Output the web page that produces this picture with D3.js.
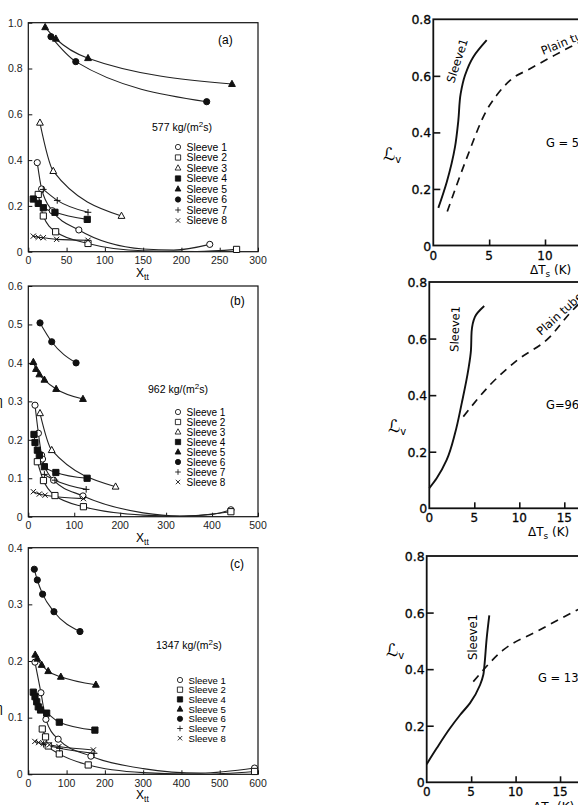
<!DOCTYPE html>
<html>
<head>
<meta charset="utf-8">
<script src="https://cdn.jsdelivr.net/npm/d3@7"></script>
<style>
body { margin: 0; background: #fff; }
svg { display: block; }
</style>
</head>
<body>
<div id="chart"></div>
<script>
// ---- left column: eta vs Xtt, one array per sleeve ----
var sleeveNames = ["Sleeve 1", "Sleeve 2", "Sleeve 3", "Sleeve 4", "Sleeve 5", "Sleeve 6", "Sleeve 7", "Sleeve 8"]
var markerKinds = ["circleOpen", "squareOpen", "triangleOpen", "square", "triangle", "circle", "plus", "cross"]

// (a) G = 577
var a1 = [[11.7, 0.389], [17.4, 0.274], [31.3, 0.179], [66, 0.095], [237, 0.032]]
var a1Fit = [[150, 0.012], [190, 0.007]]
var a2 = [[13, 0.25], [19.6, 0.156], [35.7, 0.087], [78, 0.036], [272, 0.01]]
var a2Fit = [[150, 0.004], [220, 0.001]]
var a3 = [[15.2, 0.563], [32.6, 0.352], [121.7, 0.156]]
var a4 = [[6.5, 0.23], [13, 0.211], [19.6, 0.192], [34.8, 0.172], [77, 0.141]]
var a5 = [[22, 0.98], [36, 0.93], [78, 0.845], [266, 0.732]]
var a6 = [[29.6, 0.939], [62, 0.83], [233, 0.655]]
var a7 = [[19.6, 0.272], [37.8, 0.224], [78, 0.172]]
var a8 = [[6.5, 0.068], [13, 0.063], [19.6, 0.061], [37, 0.054], [78, 0.05]]

// (b) G = 962
var b1 = [[14.6, 0.29], [22, 0.217], [29, 0.16], [31, 0.15], [55, 0.095], [119, 0.054], [441, 0.018]]
var b1Fit = [[250, 0.01], [330, 0.002], [400, 0.006]]
var b2 = [[19.7, 0.143], [33, 0.094], [58, 0.055], [120, 0.026], [441, 0.013]]
var b2Fit = [[250, 0.004], [330, 0.001]]
var b3 = [[25.5, 0.269], [51, 0.173], [190, 0.078]]
var b4 = [[12.4, 0.214], [14.6, 0.193], [19.7, 0.173], [24, 0.16], [35, 0.13], [60, 0.115], [128, 0.1]]
var b5 = [[11, 0.402], [16.8, 0.384], [24, 0.37], [35, 0.356], [60.6, 0.332], [119, 0.306]]
var b6 = [[25.5, 0.504], [51, 0.455], [104, 0.4]]
var b7 = [[35, 0.11], [58, 0.095], [126, 0.071]]
var b8 = [[11, 0.065], [24, 0.059], [36.5, 0.056], [120, 0.047]]

// (c) G = 1347 (no sleeve 3)
var c1 = [[17.4, 0.198], [33, 0.144], [46, 0.097], [78, 0.062], [163.5, 0.032], [591, 0.011]]
var c1Fit = [[300, 0.01], [450, 0.002]]
var c2 = [[36.5, 0.08], [45, 0.066], [52, 0.05], [81, 0.036], [156.5, 0.0165], [591, 0.005]]
var c2Fit = [[300, 0.003], [450, 0.0]]
var c4 = [[13, 0.145], [17.5, 0.137], [22, 0.128], [26, 0.119], [32, 0.1135], [48, 0.108], [81, 0.092], [174, 0.078]]
var c5 = [[18, 0.211], [23.5, 0.204], [35, 0.193], [52, 0.182], [85, 0.172], [176.5, 0.158]]
var c6 = [[15.7, 0.362], [23.5, 0.343], [37.4, 0.318], [67, 0.287], [135, 0.252]]
var c7 = [[40, 0.053], [82, 0.046], [172, 0.037]]
var c8 = [[17, 0.058], [27, 0.056], [40, 0.054], [55, 0.052], [80, 0.049], [170, 0.043]]

var aTicksX = [0, 50, 100, 150, 200, 250, 300], aTicksY = [0, 0.2, 0.4, 0.6, 0.8, 1.0]
var bTicksX = [0, 100, 200, 300, 400, 500], bTicksY = [0, 0.1, 0.2, 0.3, 0.4, 0.5, 0.6]
var cTicksX = [0, 100, 200, 300, 400, 500, 600], cTicksY = [0, 0.1, 0.2, 0.3, 0.4]

// ---- right column: L_v vs delta Ts ----
var r1Sleeve = [[0.45, 0.133], [1.2, 0.224], [1.94, 0.348], [2.24, 0.442], [2.45, 0.537], [2.84, 0.602], [3.58, 0.667], [4.78, 0.726]]
var r1Plain = [[1.25, 0.12], [3.0, 0.31], [4.77, 0.478], [5.67, 0.531], [6.87, 0.584], [8.66, 0.625], [10.45, 0.664], [12.24, 0.702], [14, 0.735]]
var r2Sleeve = [[0, 0.071], [0.82, 0.106], [1.93, 0.171], [2.86, 0.265], [3.6, 0.371], [4.33, 0.489], [4.63, 0.559], [4.7, 0.624], [5.07, 0.677], [6.1, 0.715]]
var r2Plain = [[3.78, 0.324], [6.74, 0.436], [9.71, 0.522], [13.4, 0.606], [15.6, 0.689], [17.5, 0.75]]
var r3Sleeve = [[0, 0.064], [1.12, 0.12], [2.62, 0.191], [3.75, 0.238], [4.87, 0.28], [6.0, 0.344], [6.37, 0.38], [6.48, 0.409], [6.75, 0.51], [7.04, 0.59]]
var r3Plain = [[5.24, 0.356], [8.62, 0.468], [12.37, 0.533], [17.0, 0.61], [19, 0.64]]
var rTicksX = [0, 5, 10, 15, 20], rTicksY = [0, 0.2, 0.4, 0.6, 0.8]

var width = 578, height = 805
var svg = d3.select("#chart").append("svg")
	.attr("width", width)
	.attr("height", height)
	.style("font-family", "'Liberation Sans', Arial, sans-serif")

function markerPath(kind) {
	switch (kind) {
		case "circleOpen": case "circle":
			return "M-3.1,0a3.1,3.1 0 1,0 6.2,0a3.1,3.1 0 1,0 -6.2,0Z"
		case "squareOpen": case "square":
			return "M-3.1,-3.1H3.1V3.1H-3.1Z"
		case "triangleOpen": case "triangle":
			return "M0,-3.8L3.4,2.4H-3.4Z"
		case "plus":
			return "M-3.3,0H3.3M0,-3.3V3.3"
		case "cross":
			return "M-2.6,-2.6L2.6,2.6M2.6,-2.6L-2.6,2.6"
	}
}
function markerFill(kind) {
	if (kind == "circle" || kind == "square" || kind == "triangle") return "#111"
	if (kind == "plus" || kind == "cross") return "none"
	return "#fff"
}

function leftPanel(p) {
	var x = d3.scaleLinear().domain(p.xd).range([28.3, 258])
	var y = d3.scaleLinear().domain(p.yd).range([p.bottom, p.top])
	var g = svg.append("g")

	g.append("rect")
		.attr("x", 28.3).attr("y", p.top)
		.attr("width", 258 - 28.3).attr("height", p.bottom - p.top)
		.attr("fill", "none").attr("stroke", "#111").attr("stroke-width", 1.2)

	// ticks point inward
	g.append("g").attr("transform", "translate(0," + p.bottom + ")")
		.call(d3.axisTop(x).tickValues(p.tx).tickSize(4).tickFormat(""))
		.call(function (s) { s.select(".domain").remove() })
	g.append("g").attr("transform", "translate(28.3,0)")
		.call(d3.axisRight(y).tickValues(p.ty).tickSize(4).tickFormat(""))
		.call(function (s) { s.select(".domain").remove() })
	g.selectAll(".tick line").attr("stroke", "#111")

	g.selectAll(".xl").data(p.tx).enter().append("text")
		.attr("x", function (d) { return x(d) })
		.attr("y", p.bottom + 12.5)
		.attr("text-anchor", "middle")
		.attr("font-size", 10.5)
		.attr("fill", "#222")
		.text(function (d) { return d })
	g.selectAll(".yl").data(p.ty).enter().append("text")
		.attr("x", 22.5)
		.attr("y", function (d) { return y(d) + 3.8 })
		.attr("text-anchor", "end")
		.attr("font-size", 10.5)
		.attr("fill", "#222")
		.text(function (d) { return d === 0 ? "0" : d.toFixed(1) })

	var xl = g.append("text").attr("x", 136).attr("y", p.bottom + 25).attr("font-size", 12)
	xl.append("tspan").text("X")
	xl.append("tspan").attr("dy", 3).attr("font-size", 8.5).text("tt")

	var line = d3.line()
		.x(function (d) { return x(d[0]) })
		.y(function (d) { return y(d[1]) })
		.curve(d3.curveMonotoneX)

	p.series.forEach(function (s) {
		var curve = s.pts.concat(s.fit || []).sort(function (u, v) { return u[0] - v[0] })
		g.append("path").attr("d", line(curve))
			.attr("fill", "none").attr("stroke", "#222").attr("stroke-width", 1.1)
	})
	p.series.forEach(function (s) {
		var kind = markerKinds[s.id - 1]
		g.selectAll(null).data(s.pts).enter().append("path")
			.attr("transform", function (d) { return "translate(" + x(d[0]) + "," + y(d[1]) + ")" })
			.attr("d", markerPath(kind))
			.attr("fill", markerFill(kind))
			.attr("stroke", "#111").attr("stroke-width", 1)
	})

	// panel tag and mass flux
	g.append("text").attr("x", p.tag[0]).attr("y", p.tag[1]).attr("font-size", 12).text(p.tagText)
	var gl = g.append("text").attr("x", p.flux[0]).attr("y", p.flux[1]).attr("font-size", 10.5)
	gl.append("tspan").text(p.fluxText + " kg/(m")
	gl.append("tspan").attr("dy", -4).attr("font-size", 8).text("2")
	gl.append("tspan").attr("dy", 4).text("s)")

	// legend
	p.series.forEach(function (s, i) {
		var kind = markerKinds[s.id - 1]
		var yy = p.leg[1] + i * p.leg[2]
		g.append("path")
			.attr("transform", "translate(" + p.leg[0] + "," + yy + ") scale(0.85)")
			.attr("d", markerPath(kind))
			.attr("fill", markerFill(kind))
			.attr("stroke", "#111").attr("stroke-width", 1)
		g.append("text").attr("x", p.leg[0] + 8.5).attr("y", yy + 3.5)
			.attr("font-size", p.leg[3]).text(sleeveNames[s.id - 1])
	})
	if (p.eta) {
		g.append("text").attr("x", -4).attr("y", p.eta).attr("font-size", 12).text("η")
	}
}

leftPanel({
	xd: [0, 300], yd: [0, 1], top: 22.7, bottom: 251.7, tx: aTicksX, ty: aTicksY,
	tag: [218, 44], tagText: "(a)", flux: [152, 131], fluxText: "577",
	leg: [178, 147, 10.5, 10.4],
	series: [{ id: 1, pts: a1, fit: a1Fit }, { id: 2, pts: a2, fit: a2Fit }, { id: 3, pts: a3 }, { id: 4, pts: a4 },
		{ id: 5, pts: a5 }, { id: 6, pts: a6 }, { id: 7, pts: a7 }, { id: 8, pts: a8 }]
})
leftPanel({
	xd: [0, 500], yd: [0, 0.6], top: 286, bottom: 516.7, tx: bTicksX, ty: bTicksY,
	tag: [230, 305], tagText: "(b)", flux: [148, 393], fluxText: "962",
	leg: [178, 412, 10, 10],
	series: [{ id: 1, pts: b1, fit: b1Fit }, { id: 2, pts: b2, fit: b2Fit }, { id: 3, pts: b3 }, { id: 4, pts: b4 },
		{ id: 5, pts: b5 }, { id: 6, pts: b6 }, { id: 7, pts: b7 }, { id: 8, pts: b8 }],
	eta: 405
})
leftPanel({
	xd: [0, 600], yd: [0, 0.4], top: 547.7, bottom: 774.3, tx: cTicksX, ty: cTicksY,
	tag: [230, 568], tagText: "(c)", flux: [156, 649], fluxText: "1347",
	leg: [180, 680, 9.7, 9.6],
	series: [{ id: 1, pts: c1, fit: c1Fit }, { id: 2, pts: c2, fit: c2Fit }, { id: 4, pts: c4 },
		{ id: 5, pts: c5 }, { id: 6, pts: c6 }, { id: 7, pts: c7 }, { id: 8, pts: c8 }],
	eta: 712
})

function rightPanel(p) {
	var x = d3.scaleLinear().domain([0, 20]).range([p.left, p.left + 20 * p.kx])
	var y = d3.scaleLinear().domain([0, 0.8]).range([p.bottom, p.top])
	var g = svg.append("g").style("font-family", "'DejaVu Sans', sans-serif")

	g.append("rect")
		.attr("x", p.left).attr("y", p.top)
		.attr("width", 20 * p.kx).attr("height", p.bottom - p.top)
		.attr("fill", "none").attr("stroke", "#111").attr("stroke-width", 1.8)

	g.append("g").attr("transform", "translate(0," + p.bottom + ")")
		.call(d3.axisTop(x).tickValues(rTicksX.slice(1)).tickSize(6).tickFormat(""))
		.call(function (s) { s.select(".domain").remove() })
	g.append("g").attr("transform", "translate(" + p.left + ",0)")
		.call(d3.axisRight(y).tickValues(rTicksY.slice(1, 4)).tickSize(7).tickFormat(""))
		.call(function (s) { s.select(".domain").remove() })
	g.selectAll(".tick line").attr("stroke", "#111").attr("stroke-width", 1.6)

	g.selectAll(null).data(rTicksX).enter().append("text")
		.attr("x", function (d) { return x(d) })
		.attr("y", p.bottom + 14)
		.attr("text-anchor", "middle")
		.attr("font-size", 12)
		.attr("stroke", "#111").attr("stroke-width", 0.3)
		.text(function (d) { return d })
	g.selectAll(null).data(rTicksY).enter().append("text")
		.attr("x", p.left - 2)
		.attr("y", function (d) { return y(d) + 5 })
		.attr("text-anchor", "end")
		.attr("font-size", 12.5)
		.attr("stroke", "#111").attr("stroke-width", 0.3)
		.text(function (d) { return d === 0 ? "0" : d.toFixed(1) })

	var xl = g.append("text").attr("x", p.xlab[0]).attr("y", p.xlab[1]).attr("font-size", 12)
	xl.append("tspan").text("ΔT")
	xl.append("tspan").attr("dy", 3).attr("font-size", 9).text("s")
	xl.append("tspan").attr("dy", -3).text(" (K)")

	var yl = g.append("text").attr("x", p.ylab[0]).attr("y", p.ylab[1])
		.attr("font-size", 17).attr("font-style", "italic")
	yl.append("tspan").text("ℒ")
	yl.append("tspan").attr("dy", 3).attr("font-size", 10).attr("font-style", "normal").text("v")

	var line = d3.line()
		.x(function (d) { return x(d[0]) })
		.y(function (d) { return y(d[1]) })
		.curve(d3.curveMonotoneY)
	var lineX = d3.line()
		.x(function (d) { return x(d[0]) })
		.y(function (d) { return y(d[1]) })
		.curve(d3.curveMonotoneX)

	g.append("path").attr("d", line(p.sleeve))
		.attr("fill", "none").attr("stroke", "#111").attr("stroke-width", 1.9)
	g.append("path").attr("d", lineX(p.plain))
		.attr("fill", "none").attr("stroke", "#111").attr("stroke-width", 1.7)
		.attr("stroke-dasharray", "8,6")

	g.append("text")
		.attr("transform", "translate(" + p.sl[0] + "," + p.sl[1] + ") rotate(" + p.sl[2] + ")")
		.attr("text-anchor", "middle").attr("font-size", 11.5).text("Sleeve1")
	if (p.pl) {
		g.append("text")
			.attr("transform", "translate(" + p.pl[0] + "," + p.pl[1] + ") rotate(" + p.pl[2] + ")")
			.attr("font-size", 11.5).text("Plain tube")
	}
	g.append("text").attr("x", p.gText[0]).attr("y", p.gText[1])
		.attr("font-size", 11.5).text(p.gText[2])
}

rightPanel({
	left: 433.3, kx: 11.17, top: 19.3, bottom: 245.5,
	sleeve: r1Sleeve, plain: r1Plain,
	xlab: [530, 274], ylab: [383, 160],
	sl: [461, 62, -72], pl: [543, 55, -22], gText: [546, 147, "G = 577 kg/(m²s)"]
})
rightPanel({
	left: 429.3, kx: 9, top: 282, bottom: 508.3,
	sleeve: r2Sleeve, plain: r2Plain,
	xlab: [528, 536], ylab: [388, 432],
	sl: [459, 329, -88], pl: [541, 336, -42], gText: [546, 409, "G=962 kg/(m²s)"]
})
rightPanel({
	left: 426.7, kx: 8.89, top: 556, bottom: 782.3,
	sleeve: r3Sleeve, plain: r3Plain,
	xlab: [533, 811], ylab: [386, 656],
	sl: [477, 637, -90], gText: [538, 682, "G = 1347 kg/(m²s)"]
})
</script>
</body>
</html>
